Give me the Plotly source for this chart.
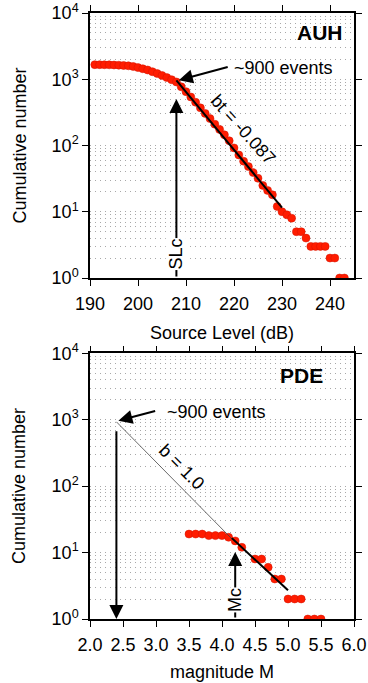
import plotly.graph_objects as go

# ---------------- data ----------------
# AUH: cumulative number vs source level (dB)
auh_sl = list(range(191, 244))
auh_n = [1660, 1660, 1655, 1650, 1640, 1630, 1615, 1595, 1560, 1500,
         1440, 1380, 1300, 1220, 1140, 1060, 985, 910, 770, 650,
         540, 450, 370, 305, 255, 210, 175, 145, 118, 92,
         72, 58, 48, 39, 32, 25, 21, 18, 12, 10,
         9, 8, 5, 5, 4, 3, 3, 3, 3, 2,
         2, 1, 1]
auh_fit_sl = [208, 230]
auh_fit_n = [960, 11.5]

# PDE: cumulative number vs magnitude
pde_m = [3.5, 3.6, 3.7, 3.8, 3.9, 4.0, 4.1, 4.2, 4.3, 4.5,
         4.6, 4.7, 4.8, 4.9, 5.0, 5.1, 5.2, 5.3, 5.4, 5.5]
pde_n = [19, 19, 19, 18, 18, 18, 17, 15, 12, 8,
         8, 6, 4, 4, 2, 2, 2, 1, 1, 1]
pde_b1_m = [2.4, 4.2]
pde_b1_n = [930, 14.3]
pde_fit_m = [4.15, 5.0]
pde_fit_n = [16.5, 2.7]

y_tickvals = [1, 10, 100, 1000, 10000]
y_ticktext = ["10<sup>0</sup>", "10<sup>1</sup>", "10<sup>2</sup>", "10<sup>3</sup>", "10<sup>4</sup>"]
y_minor_grid = [m * 10 ** d for d in range(0, 4) for m in range(2, 10)]
y_minor_ticks = [m * 10 ** d for d in range(0, 4) for m in (2, 5)]
auh_xticks = [190, 200, 210, 220, 230, 240]
pde_xticks = [2.0, 2.5, 3.0, 3.5, 4.0, 4.5, 5.0, 5.5, 6.0]

FONT = "Liberation Sans, Arial, Helvetica, sans-serif"
RED = "rgb(255,28,0)"
W, H = 368, 683
FS = 18

fig = go.Figure()

mk = dict(color=RED, size=8, line=dict(width=0.5, color="rgb(210,20,0)"))
fig.add_trace(go.Scatter(x=auh_sl, y=auh_n, mode="markers", xaxis="x", yaxis="y",
                         marker=mk, showlegend=False, hoverinfo="skip"))
fig.add_trace(go.Scatter(x=auh_fit_sl, y=auh_fit_n, mode="lines", xaxis="x", yaxis="y",
                         line=dict(color="black", width=2), showlegend=False))

fig.add_trace(go.Scatter(x=pde_m, y=pde_n, mode="markers", xaxis="x2", yaxis="y2",
                         marker=mk, showlegend=False, hoverinfo="skip"))
fig.add_trace(go.Scatter(x=pde_b1_m, y=pde_b1_n, mode="lines", xaxis="x2", yaxis="y2",
                         line=dict(color="#444", width=0.8), showlegend=False))
fig.add_trace(go.Scatter(x=pde_fit_m, y=pde_fit_n, mode="lines", xaxis="x2", yaxis="y2",
                         line=dict(color="black", width=2), showlegend=False))

px = lambda v: v / W
dom_x = [px(90), px(354)]
dom_y1 = [1 - 278 / H, 1 - 13 / H]
dom_y2 = [1 - 619 / H, 1 - 353.3 / H]

grid = dict(gridcolor="#a8a8a8", griddash="1px,4px", gridwidth=1)

def yaxis(domain, anchor):
    return dict(domain=domain, anchor=anchor, type="log", range=[0, 4], automargin=False,
                tickvals=y_tickvals, ticktext=y_ticktext,
                ticks="outside", ticklen=6, tickwidth=1.2, tickcolor="black",
                showline=True, linecolor="black", linewidth=1.5, mirror="ticks",
                showgrid=True, zeroline=False,
                minor=dict(tickvals=y_minor_grid, showgrid=True, ticks="", **grid),
                tickfont=dict(size=FS, color="black", family=FONT), **grid)

def xaxis(domain, anchor, rng, ticks, fmt):
    return dict(domain=domain, anchor=anchor, range=rng, tickvals=ticks, tickformat=fmt,
                automargin=False, ticklabelstandoff=3,
                ticks="outside", ticklen=6, tickwidth=1.2, tickcolor="black",
                showline=True, linecolor="black", linewidth=1.5, mirror="ticks",
                showgrid=False, zeroline=False,
                tickfont=dict(size=FS, color="black", family=FONT))

fig.update_layout(
    width=W, height=H, margin=dict(l=0, r=0, t=0, b=0, autoexpand=False),
    paper_bgcolor="white", plot_bgcolor="white",
    font=dict(family=FONT, size=FS, color="black"),
    xaxis=xaxis(dom_x, "y", [190, 245], auh_xticks, "d"),
    yaxis=yaxis(dom_y1, "x"),
    xaxis2=xaxis(dom_x, "y2", [2.0, 6.0], pde_xticks, ".1f"),
    yaxis2=yaxis(dom_y2, "x2"),
    yaxis3=dict(domain=dom_y2, anchor="x2", overlaying="y2", type="log", range=[0, 4],
                automargin=False,
                tickvals=y_minor_ticks, showticklabels=False,
                ticks="outside", ticklen=3, tickwidth=1, tickcolor="black",
                showline=True, linecolor="black", linewidth=1.5, mirror="ticks",
                showgrid=False, zeroline=False),
)

ann = []
arrow = dict(showarrow=True, arrowhead=2, arrowsize=1.4, arrowwidth=2, arrowcolor="black",
             text="")
C = dict(xanchor="center", yanchor="middle")
# AUH annotations
ann.append(dict(xref="x", yref="y", axref="x", ayref="y", x=208.5, y=2.985, ax=219.0, ay=3.19, **arrow))
ann.append(dict(xref="x", yref="y", x=219.6, y=3.17, text="~900 events", showarrow=False,
                xanchor="left", yanchor="middle", font=dict(size=FS)))
ann.append(dict(xref="x", yref="y", axref="x", ayref="y", x=208, y=2.70, ax=208, ay=0.0, **arrow))
ann.append(dict(xref="x", yref="y", x=208, y=0.36, text="SLc", showarrow=False, textangle=-90,
                bgcolor="white", font=dict(size=FS), borderpad=0, **C))
ann.append(dict(xref="x", yref="y", x=222.0, y=2.24, text="bt = -0.087", showarrow=False,
                textangle=48, font=dict(size=FS), **C))
ann.append(dict(xref="x", yref="y", x=237.9, y=3.70, text="<b>AUH</b>", showarrow=False,
                font=dict(size=21), **C))
# PDE annotations
ann.append(dict(xref="x2", yref="y2", axref="x2", ayref="y2", x=2.43, y=2.986, ax=3.01, ay=3.137, **arrow))
ann.append(dict(xref="x2", yref="y2", x=3.14, y=3.12, text="~900 events", showarrow=False,
                xanchor="left", yanchor="middle", font=dict(size=FS)))
ann.append(dict(xref="x2", yref="y2", axref="x2", ayref="y2", x=2.4, y=0.0, ax=2.4, ay=2.85, **arrow))
ann.append(dict(xref="x2", yref="y2", axref="x2", ayref="y2", x=4.2, y=1.01, ax=4.2, ay=0.0, **arrow))
ann.append(dict(xref="x2", yref="y2", x=4.2, y=0.29, text="Mc", showarrow=False, textangle=-90,
                bgcolor="white", font=dict(size=FS), borderpad=0, **C))
ann.append(dict(xref="x2", yref="y2", x=3.39, y=2.29, text="b = 1.0", showarrow=False,
                textangle=45, font=dict(size=FS), **C))
ann.append(dict(xref="x2", yref="y2", x=5.2, y=3.67, text="<b>PDE</b>", showarrow=False,
                font=dict(size=21), **C))
# axis titles
ann.append(dict(xref="paper", yref="paper", x=222 / W, y=1 - 333 / H, text="Source Level (dB)",
                showarrow=False, font=dict(size=FS), **C))
ann.append(dict(xref="paper", yref="paper", x=222 / W, y=1 - 672 / H, text="magnitude M",
                showarrow=False, font=dict(size=FS), **C))
ann.append(dict(xref="paper", yref="paper", x=19 / W, y=1 - 145.5 / H, text="Cumulative number",
                showarrow=False, textangle=-90, font=dict(size=FS), **C))
ann.append(dict(xref="paper", yref="paper", x=19 / W, y=1 - 486 / H, text="Cumulative number",
                showarrow=False, textangle=-90, font=dict(size=FS), **C))
fig.update_layout(annotations=ann)

fig.write_html("out.html", config={"displayModeBar": False},
               post_script="document.body.style.margin='0';document.body.style.overflow='hidden';")
